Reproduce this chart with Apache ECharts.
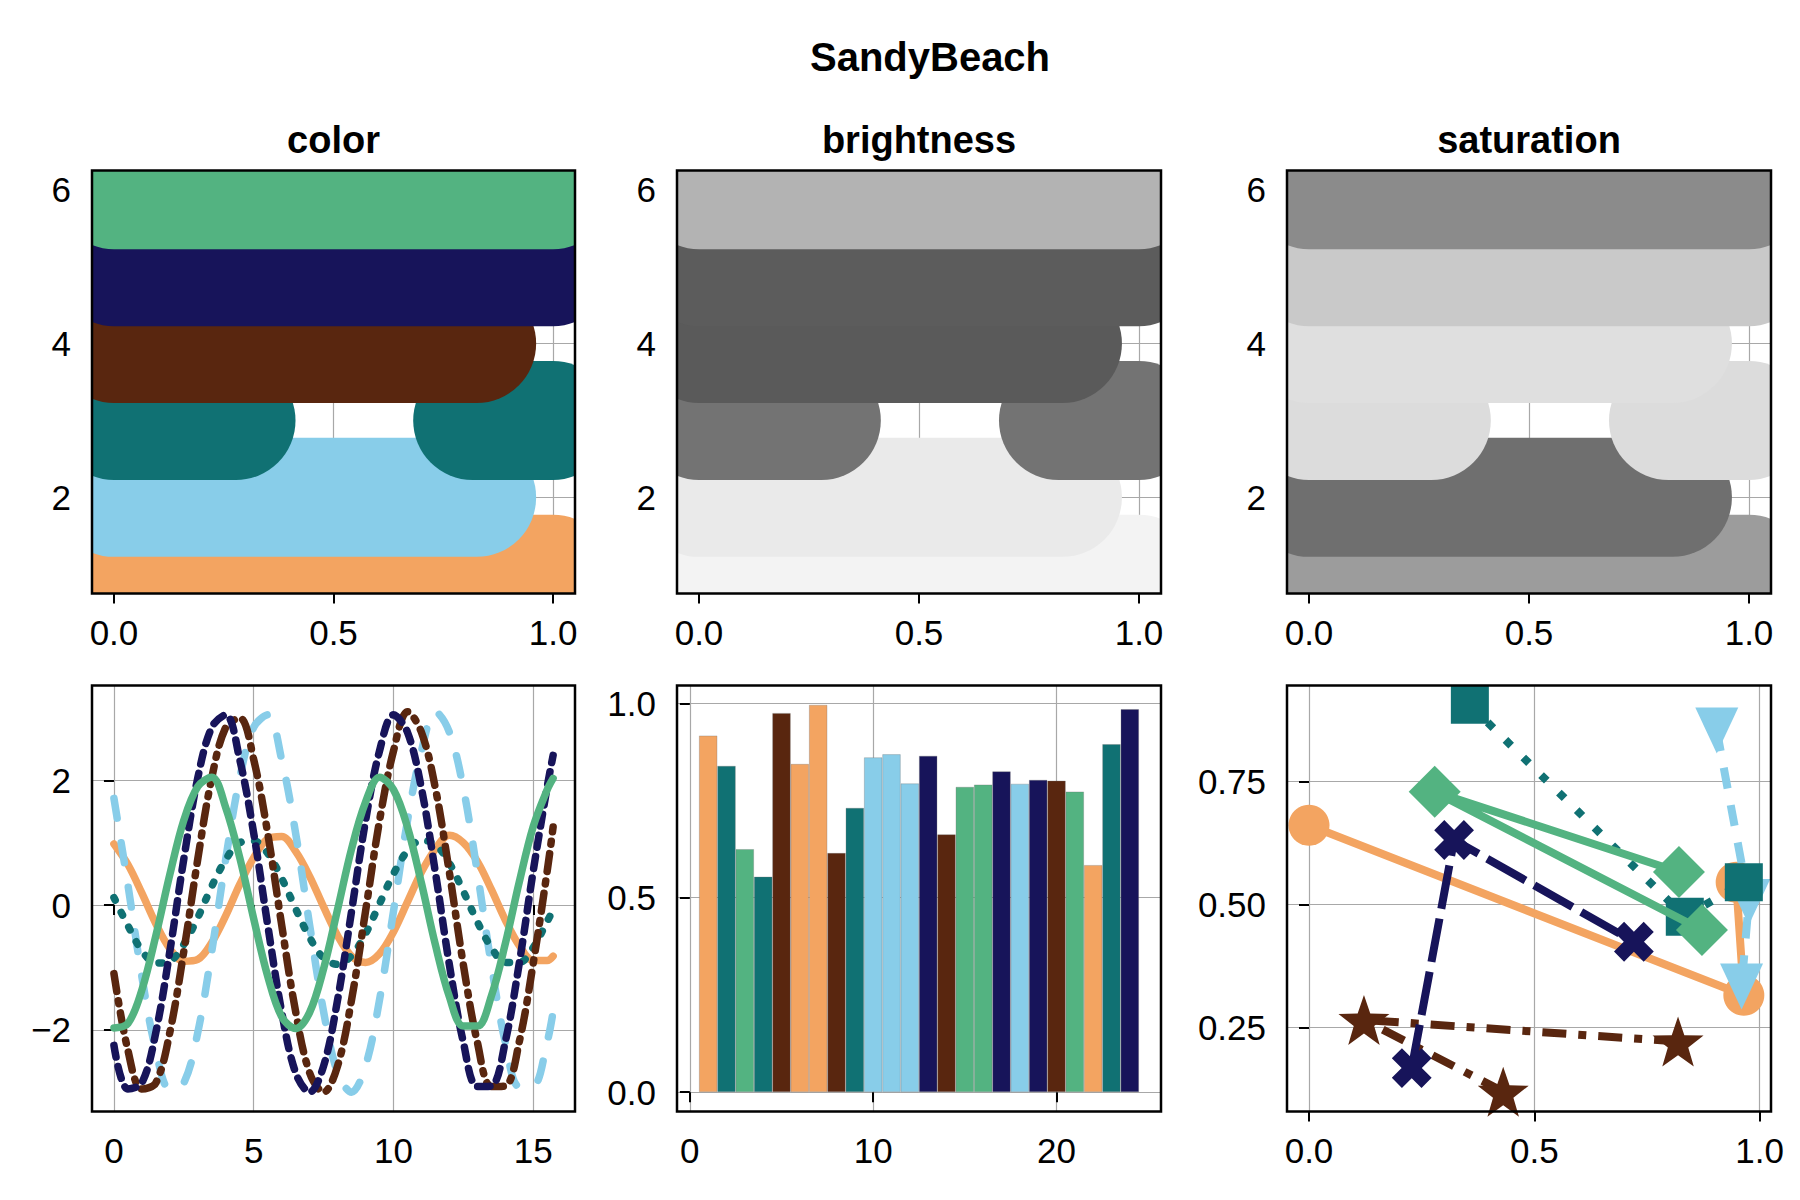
<!DOCTYPE html>
<html>
<head>
<meta charset="utf-8">
<script src="https://cdn.jsdelivr.net/npm/echarts@6/dist/echarts.min.js"></script>
<style>
html,body{margin:0;padding:0;background:#fff;}
#chart{width:1800px;height:1200px;}
</style>
</head>
<body>
<div id="chart"></div>
<script>
// ---------------- data ----------------
const palette = ['#F3A461', '#88CDE9', '#107173', '#59260F', '#17145A', '#53B381'];
const brightnessGrays = ['#f3f3f3', '#eaeaea', '#737373', '#5a5a5a', '#5c5c5c', '#b3b3b3'];
const saturationGrays = ['#9c9c9c', '#6f6f6f', '#dcdcdc', '#dfdfdf', '#c9c9c9', '#8b8b8b'];
const suptitle = 'SandyBeach';
const panelTitles = ['color', 'brightness', 'saturation'];

// band segments: [colour index, y, x start, x end]
const bandSegments = [
  [0, 1, 0, 1],
  [1, 2, 0, 0.826],
  [2, 3, 0, 0.278],
  [2, 3, 0.817, 1],
  [3, 4, 0, 0.826],
  [4, 5, 0, 1],
  [5, 6, 0, 1]
];

// wave panel
const waveX = [0, 0.5, 1, 1.5, 2, 2.5, 3, 3.5, 4, 4.5, 5, 5.5, 6, 6.5, 7, 7.5, 8, 8.5, 9, 9.5,
  10, 10.5, 11, 11.5, 12, 12.5, 13, 13.5, 14, 14.5, 15, 15.5, 15.71];
const waveOrange = [0.98, 0.65, 0.19, -0.30, -0.70, -0.90, -0.87, -0.60, -0.17, 0.33, 0.76, 1.06, 1.10, 0.86, 0.46, -0.03,
  -0.49, -0.82, -0.92, -0.78, -0.43, 0.05, 0.53, 0.90, 1.12, 1.00, 0.70, 0.25, -0.24, -0.65, -0.89, -0.89, -0.82];
const waveSky = [1.71, 0.32, -1.15, -2.33, -2.95, -2.85, -2.04, -0.74, 0.74, 2.04, 2.85, 3.05, 2.33, 1.15, -0.32, -1.71,
  -2.69, -3.00, -2.58, -1.52, -0.10, 1.35, 2.47, 3.10, 2.77, 1.87, 0.52, -0.96, -2.20, -2.91, -2.90, -2.19, -1.71];
const waveTeal = [0.12, -0.33, -0.73, -0.93, -0.90, -0.63, -0.20, 0.30, 0.73, 1.00, 1.03, 0.83, 0.43, -0.06, -0.52, -0.85,
  -0.95, -0.81, -0.46, 0.02, 0.50, 0.87, 1.04, 0.97, 0.67, 0.22, -0.27, -0.68, -0.92, -0.92, -0.68, -0.26, -0.08];
const waveBrown = [-1.10, -2.33, -2.95, -2.85, -2.04, -0.74, 0.74, 2.04, 2.85, 3.00, 2.33, 1.15, -0.32, -1.71, -2.69, -3.00,
  -2.58, -1.52, -0.10, 1.35, 2.47, 3.10, 2.77, 1.87, 0.52, -0.96, -2.20, -2.91, -2.90, -2.19, -0.93, 0.55, 1.25];
const waveNavy = [-2.25, -2.95, -2.85, -2.04, -0.74, 0.74, 2.04, 2.85, 3.05, 2.33, 1.15, -0.32, -1.71, -2.69, -3.00, -2.58,
  -1.52, -0.10, 1.35, 2.47, 3.05, 2.77, 1.87, 0.52, -0.96, -2.20, -2.91, -2.90, -2.19, -0.93, 0.55, 1.90, 2.40];
const waveGreen = [-1.97, -1.90, -1.36, -0.49, 0.49, 1.36, 1.90, 2.05, 1.56, 0.76, -0.22, -1.14, -1.79, -1.98, -1.72, -1.02,
  -0.07, 0.90, 1.65, 2.05, 1.85, 1.25, 0.35, -0.64, -1.47, -1.94, -1.94, -1.46, -0.62, 0.37, 1.26, 1.85, 2.03];

// bar panel
const barValues = [0.917, 0.839, 0.625, 0.554, 0.975, 0.844, 0.996, 0.615, 0.731, 0.861, 0.869, 0.794,
  0.865, 0.663, 0.785, 0.791, 0.825, 0.793, 0.803, 0.801, 0.773, 0.584, 0.895, 0.985];
const barColorIdx = [0, 2, 5, 2, 3, 0, 0, 3, 2, 1, 1, 1, 4, 3, 5, 5, 4, 1, 4, 3, 5, 0, 2, 4];

// scatter-lines panel
const scOrangeX = [0.000, 0.965, 0.948];
const scOrangeY = [0.661, 0.315, 0.545];
const scSkyX = [0.905, 0.976, 0.960];
const scSkyY = [0.854, 0.505, 0.333];
const scTealX = [0.357, 0.834, 0.965];
const scTealY = [0.906, 0.475, 0.545];
const scBrownX = [0.819, 0.122, 0.431];
const scBrownY = [0.221, 0.265, 0.119];
const scNavyX = [0.228, 0.322, 0.721];
const scNavyY = [0.167, 0.631, 0.424];
const scGreenX = [0.821, 0.279, 0.872];
const scGreenY = [0.566, 0.729, 0.448];

// tick values
const topXTicks = [0, 0.5, 1];
const topYTicks = [2, 4, 6];
const waveXTicks = [0, 5, 10, 15];
const waveYTicks = [-2, 0, 2];
const barXTicks = [0, 10, 20];
const barYTicks = [0, 0.5, 1];
const scXTicks = [0, 0.5, 1];
const scYTicks = [0.25, 0.5, 0.75];

// ---------------- layout / style ----------------
const FONT = '"Liberation Sans", Arial, Helvetica, sans-serif';
const grids = [
  {left: 92, top: 170.5, width: 483, height: 423},
  {left: 677, top: 170.5, width: 484, height: 423},
  {left: 1287, top: 170.5, width: 484, height: 423},
  {left: 92, top: 685.5, width: 483, height: 426},
  {left: 677, top: 685.5, width: 484, height: 426},
  {left: 1287, top: 685.5, width: 484, height: 426}
];
const BAND_WIDTH = 119;

const minusFmt = v => (v < 0 ? '\u2212' + Math.abs(v) : String(v));
const fix1 = v => v.toFixed(1);
const fix2 = v => v.toFixed(2);

function axis(idx, range, ticks, fmt) {
  return {
    type: 'value', gridIndex: idx, min: range[0], max: range[1],
    axisLine: {show: false},
    axisTick: {show: true, inside: false, length: 10, lineStyle: {color: '#000', width: 2}, customValues: ticks},
    axisLabel: {customValues: ticks, formatter: fmt, margin: 21, fontSize: 35, color: '#000', fontFamily: FONT},
    splitLine: {show: true, lineStyle: {color: '#a8a8a8', width: 1.2}}
  };
}

const xAxes = [
  axis(0, [-0.05, 1.05], topXTicks, fix1),
  axis(1, [-0.05, 1.05], topXTicks, fix1),
  axis(2, [-0.05, 1.05], topXTicks, fix1),
  axis(3, [-0.785, 16.493], waveXTicks, minusFmt),
  axis(4, [-0.7, 25.7], barXTicks, minusFmt),
  axis(5, [-0.0488, 1.0253], scXTicks, fix1)
];
const yAxes = [
  axis(0, [0.75, 6.25], topYTicks, minusFmt),
  axis(1, [0.75, 6.25], topYTicks, minusFmt),
  axis(2, [0.75, 6.25], topYTicks, minusFmt),
  axis(3, [-3.31, 3.52], waveYTicks, minusFmt),
  axis(4, [-0.0498, 1.0458], barYTicks, fix1),
  axis(5, [0.0786, 0.9454], scYTicks, fix2)
];

function bandSeries(idx, colors) {
  return {
    type: 'custom', xAxisIndex: idx, yAxisIndex: idx, clip: true, silent: true,
    data: bandSegments,
    encode: {x: [2, 3], y: 1},
    renderItem: function (params, api) {
      const y = api.value(1);
      const p0 = api.coord([api.value(2), y]);
      const p1 = api.coord([api.value(3), y]);
      return {
        type: 'line',
        shape: {x1: p0[0], y1: p0[1], x2: p1[0], y2: p1[1]},
        style: {stroke: colors[api.value(0)], lineWidth: BAND_WIDTH, lineCap: 'round', fill: null}
      };
    }
  };
}

const waveSets = [
  [waveOrange, 0, 'solid'],
  [waveSky, 1, [20, 25]],
  [waveTeal, 2, [3, 13.5]],
  [waveBrown, 3, [18, 9.5, 3, 9.5]],
  [waveNavy, 4, [12, 9.5]],
  [waveGreen, 5, 'solid']
];
const waveSeries = waveSets.map((s, i) => ({
  type: 'line', xAxisIndex: 3, yAxisIndex: 3, silent: true, z: 2 + i,
  data: waveX.map((x, k) => [x, s[0][k]]),
  smooth: 0.35, symbol: 'none',
  lineStyle: {color: palette[s[1]], width: 7.5, type: s[2], cap: 'round', join: 'round'}
}));

const barSeries = {
  type: 'bar', xAxisIndex: 4, yAxisIndex: 4, silent: true, barWidth: '100%',
  data: barValues.map((v, i) => ({value: [i + 1, v], itemStyle: {color: palette[barColorIdx[i]]}})),
  itemStyle: {borderColor: 'rgba(110,110,110,0.45)', borderWidth: 0.7}
};

const STAR = 'path://M50,0 L61.76,33.82 L97.55,34.55 L69.02,56.18 L79.39,90.45 L50,70 L20.61,90.45 L30.98,56.18 L2.45,34.55 L38.24,33.82 Z';
const PLUS = 'path://M33,0 L67,0 L67,33 L100,33 L100,67 L67,67 L67,100 L33,100 L33,67 L0,67 L0,33 L33,33 Z';
const scSets = [
  [scOrangeX, scOrangeY, 0, 'solid', 'circle', 41, 0],
  [scSkyX, scSkyY, 1, [21, 17], 'triangle', [43, 46], 180],
  [scTealX, scTealY, 2, [8, 17], 'rect', 38, 0],
  [scBrownX, scBrownY, 3, [24, 12, 8, 12], STAR, [51, 50], 0],
  [scNavyX, scNavyY, 4, [44, 10], PLUS, 42, 45],
  [scGreenX, scGreenY, 5, 'solid', 'diamond', 52, 0]
];
const scSeries = scSets.map((s, i) => ({
  type: 'line', xAxisIndex: 5, yAxisIndex: 5, silent: true, z: 2 + i,
  data: s[0].map((x, k) => [x, s[1][k]]),
  symbol: s[4], symbolSize: s[5], symbolRotate: s[6], showSymbol: true, showAllSymbol: true,
  itemStyle: {color: palette[s[2]], borderWidth: 0},
  lineStyle: {color: palette[s[2]], width: 8, type: s[3], cap: 'butt'}
}));

const titles = [
  {text: suptitle, left: 930, top: 37, textAlign: 'center', padding: 0,
   textStyle: {fontSize: 40, lineHeight: 40, fontWeight: 'bold', fontFamily: FONT, color: '#000'}}
].concat(panelTitles.map((t, i) => ({
  text: t, left: grids[i].left + grids[i].width / 2, top: 120.5, textAlign: 'center', padding: 0,
  textStyle: {fontSize: 38, lineHeight: 38, fontWeight: 'bold', fontFamily: FONT, color: '#000'}
})));

const frames = grids.map(g => ({
  type: 'rect', silent: true, z: 100,
  shape: {x: g.left, y: g.top, width: g.width, height: g.height},
  style: {fill: 'none', stroke: '#000', lineWidth: 2.5}
}));

const option = {
  animation: false,
  backgroundColor: '#ffffff',
  title: titles,
  grid: grids.map(g => Object.assign({show: false, containLabel: false}, g)),
  xAxis: xAxes,
  yAxis: yAxes,
  series: [
    bandSeries(0, palette),
    bandSeries(1, brightnessGrays),
    bandSeries(2, saturationGrays)
  ].concat(waveSeries, [barSeries], scSeries),
  graphic: {elements: frames}
};

const chart = echarts.init(document.getElementById('chart'), null, {renderer: 'svg', width: 1800, height: 1200});
chart.setOption(option);
</script>
</body>
</html>
